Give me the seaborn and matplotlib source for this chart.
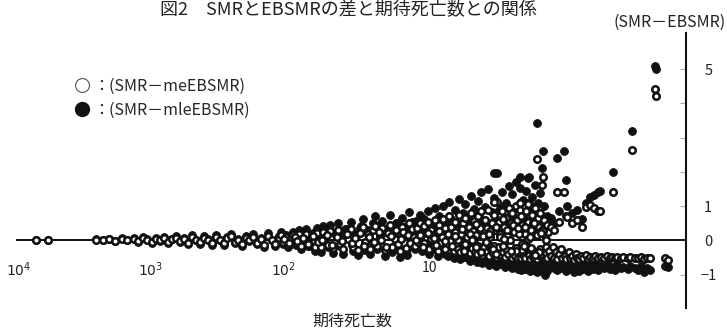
#!/usr/bin/env python3
"""
Scatter of (SMR - EBSMR) against expected deaths, reversed log x axis.
"""

import numpy as np
import pandas as pd
import seaborn as sns
import matplotlib.pyplot as plt
from matplotlib import rcParams
from matplotlib.lines import Line2D
from matplotlib.transforms import ScaledTranslation

sns.set_style("white")
rcParams["font.family"] = ["Noto Sans CJK JP", "DejaVu Sans"]
rcParams["font.size"] = 10
rcParams["axes.unicode_minus"] = True

# expected deaths and differences
# large expected counts (10^4 .. 10^2)
expected_a = [7400, 6000, 2600, 2300, 2050, 1850, 1650, 1500, 1350, 1250,
              1150, 1060, 980, 910, 850, 790, 740, 690, 640, 600,
              560, 520, 485, 455, 425, 395, 370, 345, 322, 300,
              282, 265, 248, 232, 218, 204, 192, 180, 168, 158,
              148, 139, 130, 122, 115, 108, 103, 100]
me_a = [0.0, 0.0, 0.02, 0.0, 0.03, -0.02, 0.04, 0.0, 0.05, -0.03,
        0.06, 0.02, -0.04, 0.05, 0.0, 0.07, -0.05, 0.03, 0.08, -0.02,
        0.05, -0.06, 0.09, 0.0, -0.05, 0.07, 0.02, -0.08, 0.1, 0.0,
        -0.07, 0.06, 0.12, -0.04, 0.02, -0.1, 0.08, 0.0, 0.11, -0.06,
        0.04, -0.12, 0.13, 0.0, -0.09, 0.07, 0.15, -0.05]
mle_a = [0.0, 0.0, 0.03, 0.0, 0.05, -0.03, 0.06, 0.01, 0.08, -0.05,
         0.09, 0.03, -0.07, 0.08, -0.01, 0.11, -0.08, 0.05, 0.13, -0.04,
         0.08, -0.1, 0.15, 0.01, -0.09, 0.12, 0.04, -0.14, 0.17, 0.0,
         -0.12, 0.1, 0.2, -0.08, 0.04, -0.17, 0.14, -0.02, 0.19, -0.11,
         0.07, -0.2, 0.22, 0.01, -0.16, 0.12, 0.25, -0.1]

# 100 .. 10
expected_b = [96, 92, 88, 84, 80, 76, 73, 70, 67, 64,
              61, 58, 56, 54, 52, 50, 48, 46, 44, 42,
              40, 38.5, 37, 35.5, 34, 32.5, 31, 29.5, 28, 27,
              26, 25, 24, 23, 22, 21, 20.2, 19.4, 18.6, 17.8,
              17, 16.3, 15.6, 15, 14.4, 13.8, 13.2, 12.7, 12.2, 11.7,
              11.2, 10.8, 10.4, 10]
me_b = [0.1, -0.12, 0.05, 0.15, -0.08, 0.18, -0.15, 0.02, 0.2, -0.1,
        0.12, -0.18, 0.22, 0.0, -0.2, 0.25, 0.08, -0.12, 0.28, -0.22,
        0.15, 0.3, -0.1, -0.25, 0.2, 0.05, 0.33, -0.18, 0.12, -0.27,
        0.25, 0.38, -0.05, 0.18, -0.26, 0.3, 0.42, -0.15, 0.1, 0.35,
        -0.28, 0.22, 0.45, -0.2, 0.05, 0.3, -0.3, 0.4, 0.15, -0.25,
        0.5, 0.28, -0.1, 0.35]
mle_b = [0.16, -0.2, 0.08, 0.25, -0.14, 0.3, -0.25, 0.03, 0.33, -0.17,
         0.2, -0.3, 0.36, 0.0, -0.33, 0.42, 0.13, -0.2, 0.46, -0.36,
         0.25, 0.5, -0.17, -0.4, 0.33, 0.08, 0.55, -0.3, 0.2, -0.42,
         0.41, 0.63, -0.08, 0.3, -0.4, 0.5, 0.7, -0.25, 0.17, 0.58,
         -0.45, 0.36, 0.74, -0.33, 0.08, 0.5, -0.47, 0.66, 0.25, -0.41,
         0.83, 0.46, -0.17, 0.58]

# 100 .. 10, points close to the line
expected_b2 = [98, 90, 82, 78, 71, 65, 60, 55, 51, 47,
               43, 39, 36, 33, 30, 28.5, 26.5, 24.5, 22.5, 20.6,
               19, 18.2, 16.6, 15.3, 14.1, 13.5, 12.9, 12.4, 11.9, 11.4,
               11, 10.6, 10.2, 10.1]
me_b2 = [0.04, -0.06, 0.1, -0.03, 0.07, -0.1, 0.13, -0.05, 0.02, 0.16,
         -0.14, 0.09, -0.02, 0.19, -0.08, 0.06, 0.22, -0.16, 0.11, -0.04,
         0.26, 0.0, -0.19, 0.14, 0.3, -0.1, 0.05, 0.24, -0.22, 0.17,
         -0.06, 0.33, 0.09, -0.15]
mle_b2 = [0.07, -0.1, 0.16, -0.05, 0.12, -0.17, 0.22, -0.09, 0.03, 0.27,
          -0.23, 0.15, -0.03, 0.32, -0.14, 0.1, 0.37, -0.27, 0.19, -0.07,
          0.44, 0.0, -0.32, 0.24, 0.5, -0.17, 0.08, 0.4, -0.37, 0.29,
          -0.1, 0.55, 0.15, -0.25]

# 10 .. 1, upper part of the cloud
expected_c1 = [9.8, 9.5, 9.2, 8.9, 8.6, 8.3, 8.0, 7.7, 7.4, 7.1,
               6.9, 6.6, 6.4, 6.2, 6.0, 5.8, 5.6, 5.4, 5.2, 5.0,
               4.85, 4.7, 4.55, 4.4, 4.25, 4.1, 3.95, 3.8, 3.7, 3.6,
               3.5, 3.4, 3.3, 3.2, 3.1, 3.0, 2.9, 2.82, 2.74, 2.66,
               2.58, 2.5, 2.43, 2.36, 2.29, 2.22, 2.15, 2.09, 2.03, 1.97,
               1.91, 1.86, 1.81, 1.76, 1.71, 1.66, 1.62, 1.58, 1.54, 1.5,
               1.46, 1.42, 1.38, 1.35, 1.32, 1.29, 1.26, 1.23, 1.2, 1.17,
               1.14, 1.11, 1.08, 1.05, 1.02, 1.0]
me_c1 = [0.35, 0.1, 0.5, 0.2, 0.42, 0.05, 0.55, 0.3, 0.15, 0.6,
         0.25, 0.45, 0.08, 0.62, 0.35, 0.18, 0.7, 0.4, 0.12, 0.55,
         0.3, 0.75, 0.2, 0.5, 0.65, 0.1, 0.4, 0.8, 0.28, 0.58,
         0.15, 0.7, 0.45, 0.85, 0.25, 0.6, 0.35, 0.9, 0.1, 0.5,
         0.75, 0.3, 1.12, 0.55, 0.2, 0.85, 0.4, 0.65, 0.15, 0.95,
         0.5, 0.8, 0.25, 1.0, 0.6, 0.35, 0.9, 0.45, 0.7, 0.2,
         0.85, 0.55, 1.1, 0.3, 0.75, 0.5, 0.95, 0.2, 0.65, 0.4,
         0.8, 0.3, 0.6, 0.15, 0.45, 0.25]
mle_c1 = [0.52, 0.15, 0.75, 0.3, 0.63, 0.08, 0.85, 0.45, 0.22, 0.95,
          0.38, 0.7, 0.12, 1.0, 0.53, 0.27, 1.12, 0.62, 0.18, 0.88,
          0.45, 1.2, 0.3, 0.8, 1.05, 0.15, 0.62, 1.3, 0.42, 0.93,
          0.23, 1.15, 0.7, 1.4, 0.38, 0.98, 0.55, 1.5, 0.15, 0.82,
          1.25, 0.46, 1.97, 0.9, 0.3, 1.42, 0.63, 1.08, 0.23, 1.6,
          0.8, 1.35, 0.38, 1.7, 1.0, 0.54, 1.52, 0.72, 1.18, 0.3,
          1.45, 0.9, 1.85, 0.46, 1.28, 0.8, 1.62, 0.3, 1.1, 0.63,
          1.38, 0.46, 1.0, 0.23, 0.72, 0.38]

# 10 .. 1, lower part of the cloud
expected_c2 = [9.6, 9.0, 8.4, 7.9, 7.5, 7.2, 6.8, 6.5, 6.1, 5.9,
               5.7, 5.5, 5.3, 5.1, 4.9, 4.75, 4.6, 4.45, 4.3, 4.15,
               4.0, 3.87, 3.75, 3.65, 3.55, 3.45, 3.35, 3.25, 3.15, 3.05,
               2.95, 2.86, 2.78, 2.7, 2.62, 2.54, 2.47, 2.4, 2.33, 2.26,
               2.19, 2.12, 2.06, 2.0, 1.94, 1.88, 1.83, 1.78, 1.73, 1.68,
               1.64, 1.6, 1.56, 1.52, 1.48, 1.44, 1.4, 1.36, 1.33, 1.3,
               1.27, 1.24, 1.21, 1.18, 1.15, 1.12, 1.09, 1.06, 1.03, 1.01]
me_c2 = [-0.05, -0.2, -0.1, -0.25, 0.0, -0.15, -0.3, -0.08, -0.22, -0.12,
         -0.28, -0.02, -0.18, -0.32, -0.1, -0.25, -0.35, -0.05, -0.2, -0.3,
         -0.12, -0.38, -0.22, -0.08, -0.33, -0.4, -0.15, -0.28, -0.42, -0.2,
         -0.35, -0.1, -0.45, -0.25, -0.38, -0.15, -0.47, -0.3, -0.2, -0.43,
         -0.35, -0.48, -0.25, -0.4, -0.12, -0.5, -0.32, -0.45, -0.22, -0.5,
         -0.38, -0.52, -0.28, -0.45, -0.5, -0.18, -0.42, -0.53, -0.3, -0.48,
         -0.5, -0.35, -0.54, -0.42, -0.25, -0.52, -0.45, -0.55, -0.38, -0.5]
mle_c2 = [-0.08, -0.32, -0.16, -0.4, 0.0, -0.24, -0.45, -0.13, -0.35, -0.19,
          -0.44, -0.03, -0.29, -0.5, -0.16, -0.4, -0.55, -0.08, -0.32, -0.48,
          -0.19, -0.6, -0.35, -0.13, -0.53, -0.64, -0.24, -0.45, -0.67, -0.32,
          -0.56, -0.16, -0.72, -0.4, -0.61, -0.24, -0.75, -0.48, -0.32, -0.69,
          -0.56, -0.77, -0.4, -0.64, -0.19, -0.8, -0.51, -0.72, -0.35, -0.82,
          -0.61, -0.85, -0.45, -0.72, -0.82, -0.29, -0.69, -0.88, -0.48, -0.8,
          -0.85, -0.56, -0.92, -0.69, -0.4, -0.9, -0.75, -1.0, -0.62, -0.88]

# 10 .. 1, middle of the cloud
expected_c3 = [9.9, 9.3, 8.7, 8.1, 7.6, 7.0, 6.7, 6.3, 5.95, 5.65,
               5.35, 5.05, 4.8, 4.5, 4.2, 3.9, 3.68, 3.48, 3.28, 3.08,
               2.92, 2.76, 2.6, 2.45, 2.3, 2.17, 2.05, 1.93, 1.84, 1.74,
               1.65, 1.57, 1.49, 1.41, 1.34, 1.28, 1.22, 1.16, 1.1, 1.04,
               8.8, 7.3, 6.0, 5.0, 4.3, 3.72, 3.22, 2.8, 2.45, 2.15,
               1.9, 1.7, 1.52, 1.37, 1.25, 1.13, 1.03, 3.5, 2.2, 1.6]
me_c3 = [0.0, 0.15, -0.08, 0.22, 0.05, -0.12, 0.28, 0.1, -0.02, 0.18,
         -0.15, 0.25, 0.02, 0.32, -0.1, 0.2, 0.05, -0.2, 0.35, 0.12,
         -0.05, 0.28, -0.25, 0.4, 0.1, -0.15, 0.3, 0.0, 0.45, -0.3,
         0.2, -0.1, 0.38, 0.05, -0.22, 0.5, 0.15, -0.35, 0.28, 0.0,
         -0.18, 0.08, -0.25, 0.12, -0.3, 0.0, -0.35, 0.2, -0.4, 0.05,
         -0.3, 0.35, -0.15, 0.1, -0.42, 0.22, -0.2, 0.48, 0.62, 0.7]
mle_c3 = [0.0, 0.24, -0.13, 0.35, 0.08, -0.19, 0.45, 0.16, -0.03, 0.29,
          -0.24, 0.4, 0.03, 0.51, -0.16, 0.32, 0.08, -0.32, 0.56, 0.19,
          -0.08, 0.45, -0.4, 0.64, 0.16, -0.24, 0.48, 0.0, 0.72, -0.48,
          0.32, -0.16, 0.61, 0.08, -0.35, 0.8, 0.24, -0.56, 0.45, 0.0,
          -0.29, 0.13, -0.4, 0.19, -0.48, 0.0, -0.56, 0.32, -0.64, 0.08,
          -0.48, 0.56, -0.24, 0.16, -0.67, 0.35, -0.32, 0.77, 0.99, 1.12]

# isolated high points around 1
expected_o = [1.21, 1.09, 1.11, 0.855, 0.76, 0.73, 2.56, 1.63, 1.42]
me_o = [2.37, 1.85, 1.62, 1.41, 1.41, 0.71, 1.12, 1.1, 1.05]
mle_o = [3.43, 2.6, 2.1, 2.4, 2.6, 1.76, 1.97, 1.85, 1.82]

# below 1, rising branch
expected_p = [0.95, 0.9, 0.82, 0.72, 0.66, 0.6, 0.55, 0.52, 0.48, 0.45,
              0.42, 0.405, 0.323, 0.232, 0.155, 0.152]
me_p = [0.4, 0.3, 0.55, 0.69, 0.5, 0.6, 0.4, 0.98, 1.03, 0.95,
        0.86, 0.86, 1.41, 2.63, 4.42, 4.2]
mle_p = [0.65, 0.5, 0.85, 1.0, 0.8, 0.9, 0.62, 1.09, 1.27, 1.33,
         1.41, 1.43, 2.0, 3.19, 5.08, 5.0]

# below 1, negative band
expected_n = [0.98, 0.95, 0.92, 0.9, 0.87, 0.85, 0.82, 0.8, 0.78, 0.75,
              0.73, 0.7, 0.68, 0.66, 0.64, 0.62, 0.6, 0.58, 0.56, 0.54,
              0.52, 0.5, 0.48, 0.46, 0.44, 0.42, 0.4, 0.38, 0.36, 0.34,
              0.33, 0.31, 0.3, 0.28, 0.27, 0.25, 0.24, 0.22, 0.21, 0.2,
              0.19, 0.18, 0.17, 0.13, 0.125]
me_n = [-0.3, -0.45, -0.2, -0.5, -0.35, -0.55, -0.4, -0.25, -0.5, -0.45,
        -0.55, -0.35, -0.5, -0.45, -0.58, -0.4, -0.5, -0.55, -0.45, -0.5,
        -0.42, -0.55, -0.48, -0.5, -0.45, -0.52, -0.48, -0.5, -0.45, -0.5,
        -0.48, -0.52, -0.47, -0.5, -0.48, -0.5, -0.47, -0.5, -0.52, -0.48,
        -0.55, -0.5, -0.52, -0.5, -0.57]
mle_n = [-0.45, -0.7, -0.3, -0.8, -0.55, -0.85, -0.62, -0.38, -0.8, -0.72,
         -0.88, -0.55, -0.8, -0.7, -0.92, -0.62, -0.8, -0.9, -0.7, -0.82,
         -0.66, -0.9, -0.76, -0.82, -0.7, -0.85, -0.75, -0.8, -0.7, -0.82,
         -0.76, -0.85, -0.72, -0.8, -0.78, -0.82, -0.74, -0.8, -0.85, -0.75,
         -0.92, -0.8, -0.85, -0.75, -0.78]

xtick_values = [1e4, 1e3, 1e2, 10, 1]
xtick_labels = ["$10^4$", "$10^3$", "$10^2$", "10", "1"]
ytick_values = [-1, 0, 1, 2, 3, 4, 5]
ytick_labels = ["−1", "0", "1", "", "", "", "5"]

df = pd.DataFrame({
    "expected": expected_a + expected_b + expected_b2 + expected_c1
    + expected_c2 + expected_c3 + expected_o + expected_p + expected_n,
    "me": me_a + me_b + me_b2 + me_c1 + me_c2 + me_c3 + me_o + me_p + me_n,
    "mle": mle_a + mle_b + mle_b2 + mle_c1 + mle_c2 + mle_c3 + mle_o
    + mle_p + mle_n,
})

# figure, axes placed by hand
fig = plt.figure(figsize=(7.27, 3.30), dpi=100)
ax = fig.add_axes([10 / 727, 22 / 330, 676 / 727, 275 / 330])

# filled first, open circles on top
sns.scatterplot(data=df, x="expected", y="mle", ax=ax, color="#111111",
                edgecolor="#111111", linewidth=0.6, s=32, zorder=3)
sns.scatterplot(data=df, x="expected", y="me", ax=ax, color="white",
                edgecolor="#111111", linewidth=1.8, s=22, zorder=4)

ax.set_xscale("log")
ax.set_xlim(10 ** 4.063, 10 ** -1.042)
ax.set_ylim(-1.97, 6.05)

# zero line
ax.hlines(0, 10 ** 4.02, 10 ** -1.042, color="#111111", lw=1.4, zorder=2)

# spines: only the right one
for side in ["top", "left", "bottom"]:
    ax.spines[side].set_visible(False)
ax.spines["right"].set_linewidth(1.5)
ax.spines["right"].set_color("#111111")

# x ticks: labels only, drawn inside the axes
ax.set_xticks(xtick_values)
ax.set_xticklabels(xtick_labels)
ax.xaxis.set_minor_locator(plt.NullLocator())
ax.tick_params(axis="x", length=0, pad=-34, labelsize=10, labelcolor="#222222")
# the "10" label sits a bit right of its decade in the original
lbl10 = ax.get_xticklabels()[3]
lbl10.set_transform(lbl10.get_transform()
                    + ScaledTranslation(14 / 100, 0, fig.dpi_scale_trans))

# y axis on the right
ax.yaxis.tick_right()
ax.set_yticks(ytick_values)
ax.set_yticklabels(ytick_labels)
ax.tick_params(axis="y", direction="in", length=4, width=0.6, color="#999999",
               pad=16, labelsize=10.5, labelcolor="#222222")
for lbl in ax.get_yticklabels():
    lbl.set_horizontalalignment("center")

ax.set_xlabel("")
ax.set_ylabel("")

# legend
handles = [
    Line2D([], [], marker="o", ls="", markersize=10, markerfacecolor="white",
           markeredgecolor="#555555", markeredgewidth=0.8),
    Line2D([], [], marker="o", ls="", markersize=10, markerfacecolor="#111111",
           markeredgecolor="#111111"),
]
ax.legend(handles, ["：(SMR－meEBSMR)", "：(SMR－mleEBSMR)"], frameon=False,
          loc="upper left", bbox_to_anchor=(58 / 676, 1 - 38 / 275),
          handletextpad=0.15, labelspacing=0.45, fontsize=11.5,
          borderaxespad=0, handlelength=1.0)

# texts
fig.text(348 / 727, 1 - 1 / 330, "図2　SMRとEBSMRの差と期待死亡数との関係",
         ha="center", va="top", fontsize=13, color="#222222")
fig.text(670 / 727, 1 - 22 / 330, "(SMR－EBSMR)", ha="center", va="center",
         fontsize=11.5, color="#222222")
fig.text(352 / 727, 1 - 321 / 330, "期待死亡数", ha="center", va="center",
         fontsize=11.5, color="#222222")

plt.savefig("out.png", dpi=100)
